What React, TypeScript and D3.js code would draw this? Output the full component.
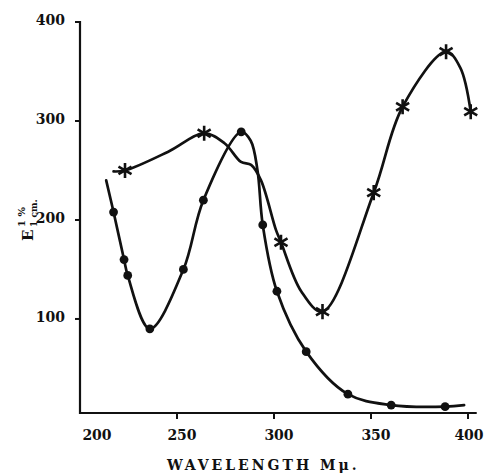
import React from "react";
import * as d3 from "d3";

// ---- data ----
const wavelengthTicks = [200, 250, 300, 350, 400];
const extinctionTicks = [100, 200, 300, 400];

// series 1 (filled circles)
const circleMarkWl = [217.3, 222.7, 224.6, 236, 253.3, 263.6, 283.1, 294.2, 301.5, 316.6, 338.1, 360.4, 388.2];
const circleMarkE = [208, 160, 144, 90, 150, 220, 289, 195, 128, 67, 24, 13, 11.4];
const circleCurveWl = [213.5, 217.3, 222.7, 224.6, 236, 253.3, 263.6, 283.1, 288, 291.5, 294.2, 301.5, 316.6, 338.1, 360.4, 388.2, 398];
const circleCurveE = [240, 208, 160, 144, 90, 150, 220, 289, 280, 250, 195, 128, 67, 24, 13, 11.4, 13];

// series 2 (asterisks)
const starMarkWl = [223.2, 264, 303.6, 325, 351.4, 366.3, 388.7, 401.4];
const starMarkE = [250, 287.6, 177.5, 107.4, 227.6, 314.4, 370, 309.4];
const starCurveWl = [217.3, 223.2, 245.5, 264, 274.5, 283, 288.2, 293.3, 301, 303.6, 314, 325, 351.4, 366.3, 388.7, 396, 401.4];
const starCurveE = [249, 250, 269, 287.6, 277.5, 258.6, 255.6, 240, 190, 177.5, 128, 107.4, 227.6, 314.4, 370, 354, 309.4];

const xTitle = "WAVELENGTH M\u03bc.";

const FONT = "'DejaVu Serif', serif";

export default function App() {
  const x = d3.scaleLinear().domain([200, 400]).range([80, 468]);
  const y = d3.scaleLinear().domain([5, 400]).range([413, 22]);

  const line = d3
    .line<[number, number]>()
    .x((d) => x(d[0]))
    .y((d) => y(d[1]))
    .curve(d3.curveCatmullRom.alpha(0.5));

  const circleCurve: [number, number][] = circleCurveWl.map((w, i) => [w, circleCurveE[i]]);
  const starCurve: [number, number][] = starCurveWl.map((w, i) => [w, starCurveE[i]]);
  const star = d3.symbol().type(d3.symbolAsterisk).size(160)() as string;

  const x0 = x(200);
  const y0 = y(5);

  return (
    <svg width={486} height={473} style={{ position: "absolute", left: 0, top: 0, background: "#fff" }}>
      <rect width={486} height={473} fill="#fff" />
      {/* axes */}
      <line x1={x0} y1={y(401)} x2={x0} y2={y0 + 1} stroke="#111" strokeWidth={2.2} />
      <line x1={x0 - 1} y1={y0} x2={x(404.5)} y2={y0} stroke="#111" strokeWidth={2.2} />
      {extinctionTicks.map((v) => (
        <g key={"yt" + v}>
          <line x1={x0 - 5} x2={x0} y1={y(v)} y2={y(v)} stroke="#111" strokeWidth={2} />
          <text x={65} y={y(v) + 3} textAnchor="end" fontFamily={FONT} fontWeight="bold" fontSize={14} fill="#111">
            {v}
          </text>
        </g>
      ))}
      {wavelengthTicks.map((v) => (
        <g key={"xt" + v}>
          {v !== 200 && <line x1={x(v)} x2={x(v)} y1={y0} y2={y0 + 6} stroke="#111" strokeWidth={2} />}
          <text
            x={x(v) + (v === 200 ? 17 : v === 400 ? 1 : 5)}
            y={440}
            textAnchor="middle"
            fontFamily={FONT}
            fontWeight="bold"
            fontSize={14}
            fill="#111"
          >
            {v}
          </text>
        </g>
      ))}
      <text x={167} y={470} fontFamily={FONT} fontWeight="bold" fontSize={14} letterSpacing={3} fill="#111">
        {xTitle}
      </text>
      {/* y label */}
      <g transform="translate(33,241) rotate(-90)" fontFamily={FONT} fontWeight="bold" fill="#111">
        <text x={0} y={0} fontSize={15}>E</text>
        <text x={14} y={-8} fontSize={10}>1 %</text>
        <text x={14} y={4} fontSize={9}>1 cm.</text>
      </g>
      {/* curves */}
      <path d={line(circleCurve) || ""} fill="none" stroke="#111" strokeWidth={2.7} strokeLinejoin="round" strokeLinecap="round" />
      <path d={line(starCurve) || ""} fill="none" stroke="#111" strokeWidth={2.7} strokeLinejoin="round" strokeLinecap="round" />
      {circleMarkWl.map((w, i) => (
        <circle key={"c" + i} cx={x(w)} cy={y(circleMarkE[i])} r={4.4} fill="#111" />
      ))}
      {starMarkWl.map((w, i) => (
        <path
          key={"s" + i}
          d={star}
          transform={`translate(${x(w)},${y(starMarkE[i])})`}
          fill="none"
          stroke="#111"
          strokeWidth={2.6}
        />
      ))}
    </svg>
  );
}
